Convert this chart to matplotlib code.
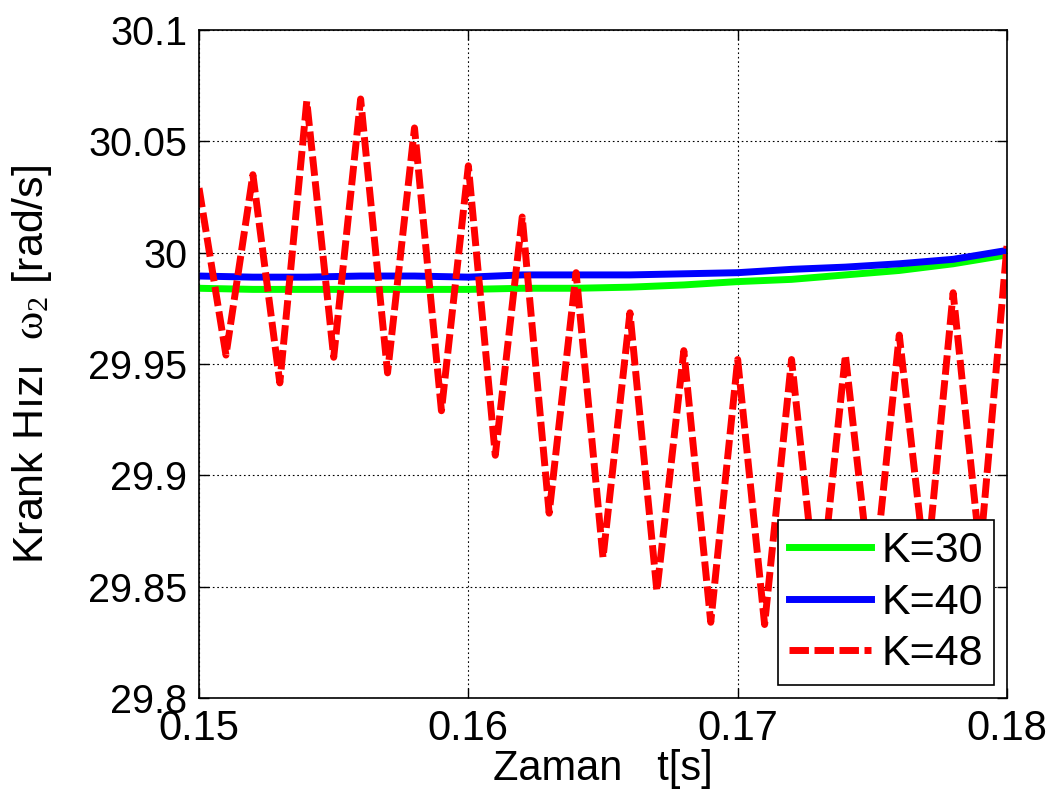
import matplotlib
matplotlib.use("Agg")
import matplotlib.pyplot as plt
import numpy as np

plt.rcParams['font.family'] = ['Liberation Sans', 'DejaVu Sans']
plt.rcParams['mathtext.fontset'] = 'custom'
plt.rcParams['mathtext.rm'] = 'Liberation Serif'
plt.rcParams['mathtext.it'] = 'Liberation Serif'

# Zaman ekseni ve krank hızları
t_k48 = np.round(np.arange(0.150, 0.1805, 0.001), 3)
w_k48 = [30.029, 29.954, 30.035, 29.9415, 30.068, 29.953, 30.069, 29.946,
         30.056, 29.929, 30.039, 29.909, 30.016, 29.883, 29.991, 29.863,
         29.973, 29.848, 29.956, 29.834, 29.952, 29.833, 29.952, 29.838,
         29.954, 29.845, 29.963, 29.855, 29.982, 29.865, 30.003]

t_k = np.round(np.arange(0.150, 0.1805, 0.002), 3)
w_k30 = [29.984, 29.9835, 29.9835, 29.9835, 29.9835, 29.9835, 29.984, 29.984,
         29.9845, 29.9855, 29.987, 29.988, 29.990, 29.992, 29.995, 29.999]
w_k40 = [29.9895, 29.989, 29.989, 29.9895, 29.9895, 29.989, 29.990, 29.990,
         29.990, 29.9905, 29.991, 29.9925, 29.9935, 29.995, 29.997, 30.001]

x_ticks = [0.15, 0.16, 0.17, 0.18]
x_labels = ['0.15', '0.16', '0.17', '0.18']
y_ticks = [29.8, 29.85, 29.9, 29.95, 30.0, 30.05, 30.1]
y_labels = ['29.8', '29.85', '29.9', '29.95', '30', '30.05', '30.1']

fig = plt.figure(figsize=(10.57, 7.99), dpi=100)
ax = fig.add_axes([0.1883, 0.1264, 0.7644, 0.8361])

ax.plot(t_k, w_k30, color='#00ff00', lw=5, label='K=30')
ax.plot(t_k, w_k40, color='#0000ff', lw=5, label='K=40')
ax.plot(t_k48, w_k48, color='#ff0000', lw=5, ls=(0, (2.8, 0.8)), label='K=48')

ax.set_xlim(0.15, 0.18)
ax.set_ylim(29.8, 30.1)
ax.set_xticks(x_ticks)
ax.set_xticklabels(x_labels, fontsize=30)
ax.set_yticks(y_ticks)
ax.set_yticklabels(y_labels, fontsize=28.5)

ax.grid(True, color='black', ls=(0, (1.5, 2.5)), lw=0.8)
ax.tick_params(direction='in', length=7, width=1, top=True, right=True)
ax.tick_params(axis='x', pad=8)
ax.tick_params(axis='y', pad=8.5)
for s in ax.spines.values():
    s.set_linewidth(1.2)

ax.set_xlabel('Zaman   t[s]', fontsize=30)
ax.xaxis.set_label_coords(0.5, -0.076)
ax.set_ylabel('Krank Hızı  $\\omega_2$ [rad/s]', fontsize=31)
ax.yaxis.set_label_coords(-0.18, 0.5)

leg = ax.legend(loc='lower right', fontsize=31, frameon=True, fancybox=False,
                edgecolor='black', framealpha=1, handlelength=1.9,
                handletextpad=0.25, borderpad=0.25, labelspacing=0.27,
                borderaxespad=0.3)
leg.get_frame().set_linewidth(1.2)

fig.savefig('out.png', dpi=100)
